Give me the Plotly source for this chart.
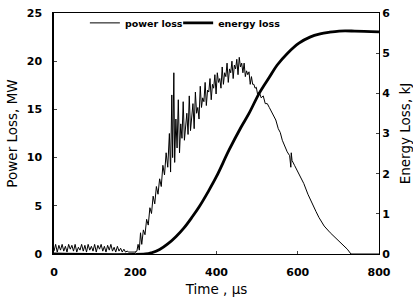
import plotly.graph_objects as go

# ---- data ----
# power loss: quiet start, ramp, noisy plateau, decay
pt_quiet = [0, 4, 8, 12, 16, 20, 24, 28, 32, 36, 40, 44, 48, 52, 56, 60, 64, 68, 72, 76,
            80, 84, 88, 92, 96, 100, 104, 108, 112, 116, 120, 124, 128, 132, 136, 140, 144,
            148, 152, 156, 160, 164, 168, 172, 176, 180, 184, 188, 192]
pv_quiet = [0.3, 1.0, 0.2, 0.9, 0.4, 1.0, 0.3, 0.8, 0.2, 1.0, 0.5, 0.9, 0.3, 1.0, 0.2, 0.7,
            0.4, 1.0, 0.3, 0.9, 0.2, 1.0, 0.4, 0.8, 0.3, 1.0, 0.2, 0.9, 0.5, 1.0, 0.3, 0.8,
            0.2, 0.9, 0.4, 1.0, 0.3, 0.7, 0.2, 0.8, 0.3, 0.6, 0.2, 0.5, 0.2, 0.3, 0.2, 0.2, 0.2]

pt_ramp = [196, 200, 204, 207, 210, 213, 216, 220, 224, 228, 232, 236, 240, 244, 248, 252,
           256, 260, 264, 268, 272, 276, 280, 284, 287, 290, 292, 295, 297]
pv_ramp = [0.2, 0.2, 0.3, 1.0, 0.4, 2.2, 1.0, 2.5, 2.0, 3.6, 3.0, 4.8, 4.2, 6.0, 5.2, 7.0,
           6.2, 7.8, 7.0, 9.2, 8.2, 10.5, 9.0, 12.5, 8.5, 16.5, 10.0, 18.8, 9.5]

pt_noisy = [300, 303, 306, 309, 312, 315, 318, 321, 324, 327, 330, 333, 336, 339, 342, 345,
            348, 351, 354, 357, 360, 363, 366, 369, 372, 375, 378, 381, 384, 387, 390, 393,
            396, 399, 402, 405, 408, 411, 414, 417, 420, 423, 426, 429, 432, 435, 438, 441,
            444, 447, 450, 453, 456, 459, 462, 465, 468, 471, 474, 477, 480, 483, 486, 489,
            492, 495, 498]
pv_noisy = [14.0, 11.0, 16.0, 10.5, 13.5, 12.0, 15.8, 11.8, 13.2, 14.6, 12.4, 16.4, 12.8, 14.2, 15.6, 13.0,
            16.8, 14.6, 15.2, 14.0, 17.4, 15.2, 16.2, 15.8, 17.8, 15.4, 17.0, 16.8, 18.2, 16.0, 17.6, 17.2,
            18.6, 16.6, 18.8, 17.8, 18.2, 17.2, 19.4, 17.6, 18.8, 18.4, 19.8, 17.8, 19.2, 18.8, 20.0, 18.2,
            19.6, 19.2, 20.2, 18.6, 20.4, 19.4, 19.8, 18.8, 19.8, 18.4, 19.0, 18.6, 18.9, 17.6, 18.4, 17.6,
            17.6, 17.2, 17.3]

pt_decay = [501, 505, 510, 515, 520, 525, 530, 535, 540, 546, 552, 557, 562, 568, 574, 580,
            583, 584, 586, 592, 600, 608, 615, 625, 635, 645, 652, 665, 680, 690, 702, 712,
            722, 731, 760, 800]
pv_decay = [16.6, 16.8, 16.2, 16.4, 15.6, 15.6, 15.2, 14.8, 14.3, 13.9, 13.0, 12.6, 11.8, 11.2, 10.6, 10.2,
            9.0, 10.5, 9.7, 9.2, 8.5, 7.9, 7.3, 6.2, 5.2, 4.4, 3.8, 2.9, 2.2, 1.8, 1.4, 0.9,
            0.5, 0.0, 0.0, 0.0]

energy_t = [0, 225, 240, 260, 280, 300, 320, 340, 357, 380, 400, 431, 460, 480, 505,
            530, 549, 575, 603, 630, 655, 677, 702, 740, 800]
energy_kj = [0.0, 0.0, 0.03, 0.11, 0.25, 0.43, 0.65, 0.92, 1.17, 1.56, 1.93, 2.59, 3.15, 3.5, 4.0,
             4.4, 4.7, 5.0, 5.25, 5.4, 5.48, 5.52, 5.55, 5.55, 5.53]

x_ticks = [0, 200, 400, 600, 800]
y_ticks = [0, 5, 10, 15, 20, 25]
y2_ticks = [0, 1, 2, 3, 4, 5, 6]

power_t = pt_quiet + pt_ramp + pt_noisy + pt_decay
power_mw = pv_quiet + pv_ramp + pv_noisy + pv_decay

fig = go.Figure()
fig.add_trace(go.Scatter(x=power_t, y=power_mw, mode="lines", name="power loss",
                         legend="legend",
                         line=dict(color="black", width=1)))
fig.add_trace(go.Scatter(x=energy_t, y=energy_kj, mode="lines", name="energy loss",
                         legend="legend2", yaxis="y2",
                         line=dict(color="black", width=2.8, shape="spline")))

tickfont = dict(family="DejaVu Sans", size=11, color="black", weight="bold")
titlefont = dict(family="DejaVu Sans", size=13.5, color="black")
legfont = dict(family="DejaVu Sans", size=9.5, color="black", weight="bold")

fig.update_layout(
    width=413, height=303,
    margin=dict(l=54, r=34, t=13, b=49, autoexpand=False),
    paper_bgcolor="white", plot_bgcolor="white",
    showlegend=True,
    legend=dict(orientation="h", x=0.095, y=0.959, xanchor="left", yanchor="middle",
                bgcolor="rgba(0,0,0,0)", font=legfont, itemwidth=30),
    legend2=dict(orientation="h", x=0.382, y=0.959, xanchor="left", yanchor="middle",
                 bgcolor="rgba(0,0,0,0)", font=legfont, itemwidth=30),
    xaxis=dict(range=[0, 800], tickvals=x_ticks, ticks="inside", ticklen=3,
               showline=True, linecolor="black", linewidth=1, mirror=True,
               showgrid=False, zeroline=False, tickfont=tickfont, ticklabelstandoff=8,
               automargin=False,
               title=dict(text="Time , µs", font=titlefont, standoff=6)),
    yaxis=dict(range=[0, 25], tickvals=y_ticks, ticks="inside", ticklen=3,
               showline=True, linecolor="black", linewidth=1.5,
               showgrid=False, zeroline=False, tickfont=tickfont, ticklabelstandoff=8,
               automargin=False,
               title=dict(text="Power Loss, MW", font=titlefont, standoff=6)),
    yaxis2=dict(range=[0, 6], tickvals=y2_ticks, ticks="inside", ticklen=3,
                overlaying="y", side="right",
                showline=True, linecolor="black", linewidth=1,
                showgrid=False, zeroline=False, tickfont=tickfont,
                automargin=False,
                title=dict(text="Energy Loss, kJ", font=titlefont, standoff=16)),
)

fig.write_html("out.html", config={"displayModeBar": False},
               post_script="document.body.style.margin='0';")
